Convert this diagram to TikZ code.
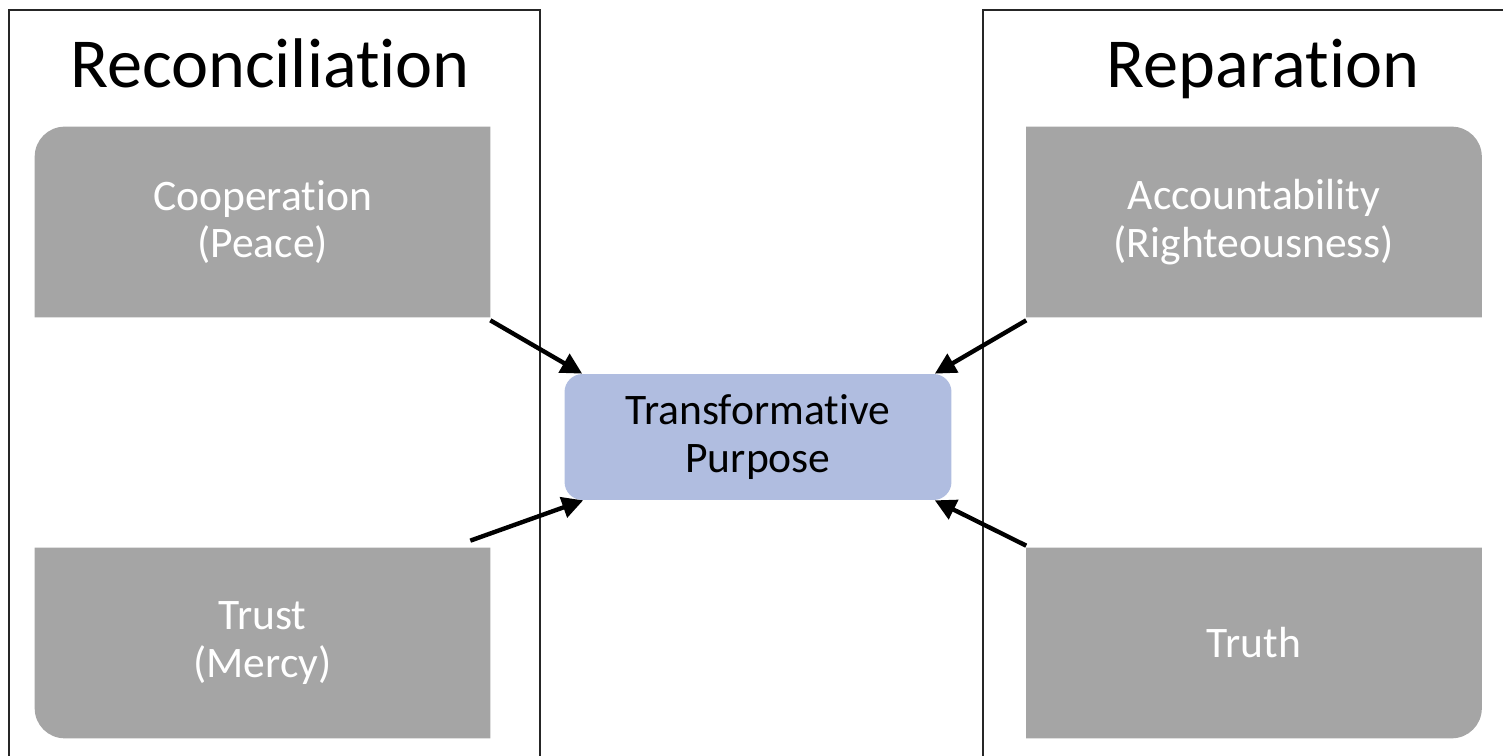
\documentclass[tikz,border=0pt]{standalone}
\usepackage{fontspec}
\setmainfont{Carlito}[RawFeature={-liga;-clig;-calt}]
\usetikzlibrary{arrows.meta,backgrounds}
\definecolor{boxgray}{HTML}{A5A5A5}
\definecolor{purposeblue}{HTML}{B0BDE0}
\def\rr{0.6cm}
\tikzset{
  pillar/.style={minimum width=9.1cm, minimum height=3.8cm, inner sep=0pt, align=center, text=white, font=\fontsize{24.8}{27.2}\selectfont},
  purpose/.style={minimum width=7.74cm, minimum height=2.52cm, inner sep=0pt, align=center, fill=purposeblue, rounded corners=0.36cm, font=\fontsize{24.8}{27}\selectfont},
  heading/.style={anchor=base, font=\fontsize{40}{48}\selectfont},
  frame/.style={line width=0.8pt, color=black!85},
  feed/.style={line width=2.5pt, -{Triangle[length=0.42cm, width=0.42cm]}}
}

\begin{document}
\begin{tikzpicture}[x=0.02cm, y=0.02cm]
			%%%%% START %%%%%
			\clip (0,0) rectangle (1503,756);
			
			\draw[frame] (9,746) rectangle (540,-20);
			\draw[frame] (983,746) rectangle (1530,-20);
			
			\node[heading] (recon) at (270,668) {Reconciliation};
			\node[heading] (repar) at (1263,668) {Reparation};
			
			\node[pillar] (coop) at (262.5,534) {Cooperation\\(Peace)};
			\node[pillar] (trust) at (262.5,113) {Trust\\(Mercy)};
			\node[pillar] (acc) at (1254,534) {Accountability\\(Righteousness)};
			\node[pillar] (truth) at (1254,113) {Truth};
			
			\node[purpose] (tp) at (758,319) {Transformative\\Purpose};
			
			\begin{scope}[on background layer]
			\fill[boxgray] (coop.south west) -- ([yshift=-\rr]coop.north west) arc[start angle=180, end angle=90, radius=\rr] -- (coop.north east) -- (coop.south east) -- cycle;
			\fill[boxgray] (trust.north west) -- (trust.north east) -- (trust.south east) -- ([xshift=\rr]trust.south west) arc[start angle=270, end angle=180, radius=\rr] -- cycle;
			\fill[boxgray] (acc.south west) -- (acc.north west) -- ([xshift=-\rr]acc.north east) arc[start angle=90, end angle=0, radius=\rr] -- (acc.south east) -- cycle;
			\fill[boxgray] (truth.north west) -- (truth.north east) -- ([yshift=\rr]truth.south east) arc[start angle=0, end angle=-90, radius=\rr] -- (truth.south west) -- cycle;
			\end{scope}
			
			\draw[feed] ([yshift=-0.06cm]coop.south east) -- ([xshift=0.36cm]tp.north west);
			\draw[feed] ([xshift=-0.4cm, yshift=0.14cm]trust.north east) -- ([xshift=0.38cm]tp.south west);
			\draw[feed] ([yshift=-0.06cm]acc.south west) -- ([xshift=-0.34cm]tp.north east);
			\draw[feed] ([yshift=0.04cm]truth.north west) -- ([xshift=-0.34cm]tp.south east);
			
			%%%%% END %%%%%
\end{tikzpicture}
\end{document}
